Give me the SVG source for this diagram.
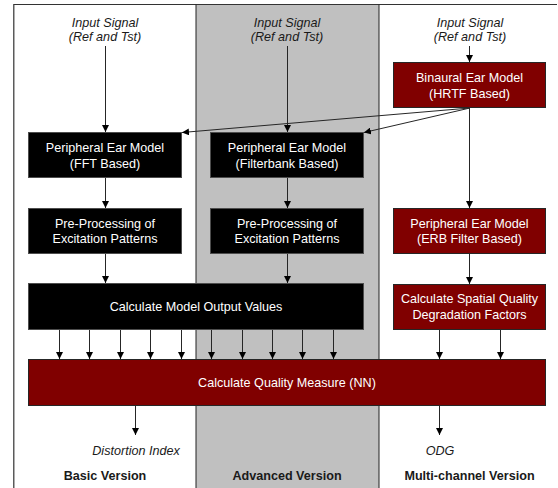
<svg xmlns="http://www.w3.org/2000/svg" width="558" height="488" viewBox="0 0 558 488">
<style>
.t{font-family:"Liberation Sans",Arial,sans-serif;font-size:12.6px;text-anchor:middle}
.w{fill:#ffffff}
.i{font-style:italic;fill:#1a1a1a}
.b{font-weight:bold;fill:#1a1a1a}
.bk{fill:#000000;stroke:#4d4d4d;stroke-width:1}
.rd{fill:#800000;stroke:#262626;stroke-width:1}
.c{stroke:#262626;stroke-width:1;fill:none;marker-end:url(#ah)}
</style>
<defs>
<marker id="ah" viewBox="0 0 10 10" refX="10" refY="5" markerWidth="7" markerHeight="7" markerUnits="userSpaceOnUse" orient="auto">
<path d="M0,0 L10,5 L0,10 z" fill="#000"/>
</marker>
</defs>
<g id="background">
<rect x="0" y="0" width="558" height="488" fill="#ffffff"/>
<rect x="196" y="4.5" width="183" height="484" fill="#c0c0c0"/>
<path d="M13.8,488 V4.5 H557" stroke="#333" stroke-width="1.2" fill="none"/>
<line x1="196" y1="4.5" x2="196" y2="488" stroke="#222" stroke-width="1"/>
<line x1="379" y1="4.5" x2="379" y2="488" stroke="#222" stroke-width="1"/>
</g>
<g id="input-basic"><text class="t i" x="105" y="27">Input Signal</text><text class="t i" x="105" y="41">(Ref and Tst)</text></g>
<g id="input-advanced"><text class="t i" x="287" y="27">Input Signal</text><text class="t i" x="287" y="41">(Ref and Tst)</text></g>
<g id="input-multi"><text class="t i" x="470" y="27">Input Signal</text><text class="t i" x="470" y="41">(Ref and Tst)</text></g>
<g id="binaural"><rect class="rd" x="393.5" y="62.5" width="152" height="45"/><text class="t w" x="469.5" y="82">Binaural Ear Model</text><text class="t w" x="469.5" y="98">(HRTF Based)</text></g>
<g id="periph-fft"><rect class="bk" x="28.5" y="132.5" width="153" height="45"/><text class="t w" x="105" y="152">Peripheral Ear Model</text><text class="t w" x="105" y="168">(FFT Based)</text></g>
<g id="periph-fb"><rect class="bk" x="210.5" y="132.5" width="153" height="45"/><text class="t w" x="287" y="152">Peripheral Ear Model</text><text class="t w" x="287" y="168">(Filterbank Based)</text></g>
<g id="preproc-basic"><rect class="bk" x="28.5" y="208.5" width="153" height="45"/><text class="t w" x="105" y="227.5">Pre-Processing of</text><text class="t w" x="105" y="243">Excitation Patterns</text></g>
<g id="preproc-adv"><rect class="bk" x="210.5" y="208.5" width="153" height="45"/><text class="t w" x="287" y="227.5">Pre-Processing of</text><text class="t w" x="287" y="243">Excitation Patterns</text></g>
<g id="periph-erb"><rect class="rd" x="393.5" y="208.5" width="152" height="45"/><text class="t w" x="469.5" y="227.5">Peripheral Ear Model</text><text class="t w" x="469.5" y="243">(ERB Filter Based)</text></g>
<g id="model-output"><rect class="bk" x="28.5" y="283.5" width="335" height="46"/><text class="t w" x="196" y="311">Calculate Model Output Values</text></g>
<g id="spatial"><rect class="rd" x="393.5" y="284.5" width="152" height="45"/><text class="t w" x="469.5" y="303">Calculate Spatial Quality</text><text class="t w" x="469.5" y="319">Degradation Factors</text></g>
<g id="quality"><rect class="rd" x="28.5" y="359.5" width="517" height="46"/><text class="t w" x="287" y="387">Calculate Quality Measure (NN)</text></g>
<g id="outputs">
<text class="t i" x="136" y="455">Distortion Index</text>
<text class="t i" x="440" y="455">ODG</text>
</g>
<g id="labels">
<text class="t b" x="105" y="480">Basic Version</text>
<text class="t b" x="287" y="480">Advanced Version</text>
<text class="t b" x="469.5" y="480">Multi-channel Version</text>
</g>
<g id="connectors">
<line class="c" x1="105.5" y1="46" x2="105.5" y2="132"/>
<line class="c" x1="287.5" y1="46" x2="287.5" y2="132"/>
<line class="c" x1="469.5" y1="46" x2="469.5" y2="62"/>
<line class="c" x1="470" y1="108" x2="182" y2="132.5"/>
<line class="c" x1="470" y1="108" x2="364" y2="132.5"/>
<line class="c" x1="469.5" y1="108" x2="469.5" y2="208"/>
<line class="c" x1="105.5" y1="178" x2="105.5" y2="208"/>
<line class="c" x1="287.5" y1="178" x2="287.5" y2="208"/>
<line class="c" x1="105.5" y1="254" x2="105.5" y2="283"/>
<line class="c" x1="287.5" y1="254" x2="287.5" y2="283"/>
<line class="c" x1="469.5" y1="254" x2="469.5" y2="284"/>
<line class="c" x1="59.5" y1="330" x2="59.5" y2="359"/>
<line class="c" x1="89.5" y1="330" x2="89.5" y2="359"/>
<line class="c" x1="120.5" y1="330" x2="120.5" y2="359"/>
<line class="c" x1="150.5" y1="330" x2="150.5" y2="359"/>
<line class="c" x1="181.5" y1="330" x2="181.5" y2="359"/>
<line class="c" x1="211.5" y1="330" x2="211.5" y2="359"/>
<line class="c" x1="242.5" y1="330" x2="242.5" y2="359"/>
<line class="c" x1="272.5" y1="330" x2="272.5" y2="359"/>
<line class="c" x1="302.5" y1="330" x2="302.5" y2="359"/>
<line class="c" x1="333.5" y1="330" x2="333.5" y2="359"/>
<line class="c" x1="439.5" y1="330" x2="439.5" y2="359"/>
<line class="c" x1="500.5" y1="330" x2="500.5" y2="359"/>
<line class="c" x1="135.5" y1="406" x2="135.5" y2="435"/>
<line class="c" x1="439.5" y1="406" x2="439.5" y2="435"/>
</g>
</svg>
